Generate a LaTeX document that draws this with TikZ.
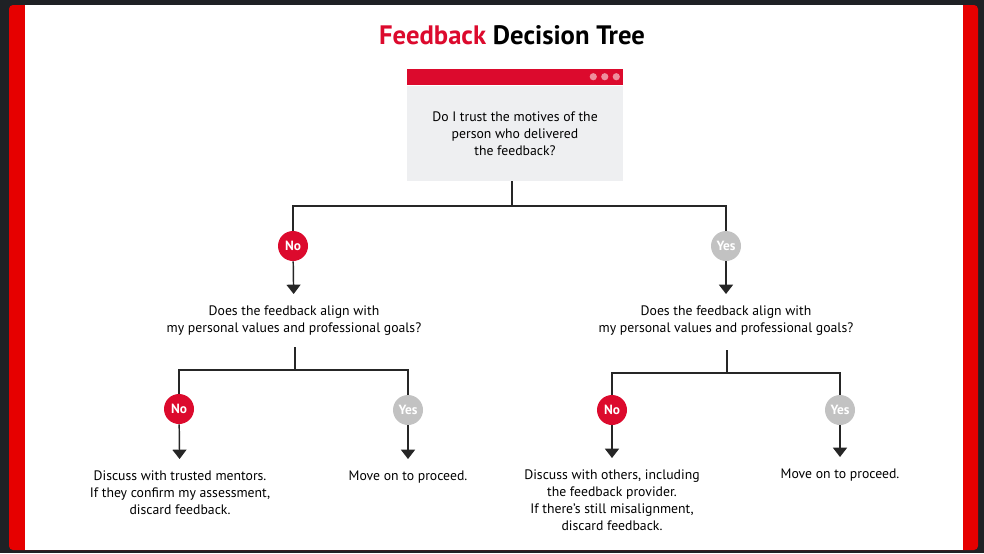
\documentclass[tikz,border=0pt]{standalone}
\usepackage{fontspec}
\setmainfont{PT Sans}
\usetikzlibrary{arrows.meta}
\definecolor{fbred}{HTML}{DC0A2D}
\definecolor{barred}{HTML}{E60000}
\definecolor{fbgrey}{HTML}{C2C2C2}
\definecolor{boxgrey}{HTML}{EEEFF1}
\definecolor{darkbg}{HTML}{1F2125}
\definecolor{dotpink}{HTML}{EE8E9C}
\begin{document}
\begin{tikzpicture}[x=0.75pt,y=-0.75pt,
	answer/.style={circle, minimum size=22.5pt, inner sep=0pt, text=white, font=\bfseries\fontsize{10}{11}\selectfont},
	nobtn/.style={answer, fill=fbred},
	yesbtn/.style={answer, fill=fbgrey},
	txt/.style={align=center, inner xsep=2pt, inner ysep=8.5pt, font=\fontsize{10.3}{12.9}\selectfont},
	link/.style={line width=1.1pt, black!85},
	arrow/.style={link, -{Triangle[width=10.5pt,length=7pt]}}]
	%\draw[help lines] (0,0) grid[step=50] (984,553);
	\useasboundingbox (0,0) rectangle (984,553);
	\fill[darkbg] (0,0) rectangle (984,553);
	\fill[barred, rounded corners=3pt] (9,5) rectangle (978,550);
	\fill[white] (25,5) rectangle (963,550);
	\node[font=\bfseries\fontsize{20}{24}\selectfont] (title) at (512,35) {\textcolor{fbred}{Feedback} Decision Tree};
	% first question
	\node[fill=boxgrey, minimum width=162pt, minimum height=71.25pt, txt] (box) at (515,133.5) {Do I trust the motives of the\\person who delivered\\the feedback?};
	\fill[fbred] (box.north west) ++(0,-1) rectangle ++(216,-16);
	\foreach \i in {0,1,2}
		\fill[dotpink] (box.north east) ++(-7-11.5*\i,-9) circle[radius=2.7pt];
	\coordinate (j1) at (512,206);
	\node[nobtn] (n1) at (293,246) {No};
	\node[yesbtn] (y1) at (726,246) {Yes};
	\draw[link] (box.south -| j1) -- (j1);
	\draw[link] (n1) |- (j1) -| (y1);
	\node[txt, anchor=north] (qn) at (294,294) {Does the feedback align with\\my personal values and professional goals?};
	\node[txt, anchor=north] (qy) at (726,294) {Does the feedback align with\\my personal values and professional goals?};
	\draw[arrow] (n1) -- (qn);
	\draw[arrow] (y1) -- (qy);
	% left branch
	\coordinate (s2) at (295,347);
	\coordinate (j2) at (295,370);
	\node[nobtn] (n2) at (179,409) {No};
	\node[yesbtn] (y2) at (408,410) {Yes};
	\draw[link] (s2) -- (j2);
	\draw[link] (n2) |- (j2) -| (y2);
	\node[txt, anchor=north] (an2) at (180,459) {Discuss with trusted mentors.\\If they confirm my assessment,\\discard feedback.};
	\node[txt, anchor=north] (ay2) at (408,459) {Move on to proceed.};
	\draw[arrow] (n2) -- (an2);
	\draw[arrow] (y2) -- (ay2);
	% right branch
	\coordinate (s3) at (727,350);
	\coordinate (j3) at (727,373);
	\node[nobtn] (n3) at (612,410) {No};
	\node[yesbtn] (y3) at (840,410) {Yes};
	\draw[link] (s3) -- (j3);
	\draw[link] (n3) |- (j3) -| (y3);
	\node[txt, anchor=north] (an3) at (612,458) {Discuss with others, including\\the feedback provider.\\If there’s still misalignment,\\discard feedback.};
	\node[txt, anchor=north] (ay3) at (840,457) {Move on to proceed.};
	\draw[arrow] (n3) -- (an3);
	\draw[arrow] (y3) -- (ay3);
\end{tikzpicture}
\end{document}
